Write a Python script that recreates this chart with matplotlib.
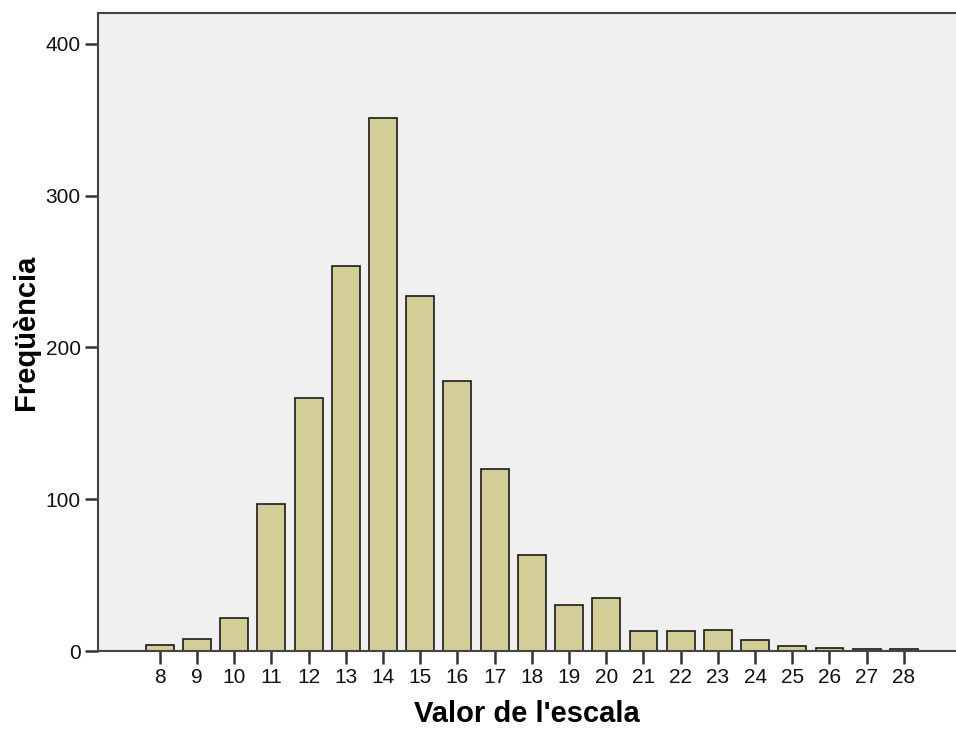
import matplotlib
matplotlib.use("Agg")
import matplotlib.pyplot as plt

# --- Dades ---
valors = list(range(8, 29))
frequencies = [4, 8, 22, 97, 167, 254, 351, 234, 178, 120, 63,
               30, 35, 13, 13, 14, 7, 3, 2, 1, 1]
yticks = [0, 100, 200, 300, 400]

plt.rcParams['font.family'] = ['Liberation Sans', 'DejaVu Sans']

fig = plt.figure(figsize=(9.56, 7.3), dpi=100)
ax = fig.add_axes([0.1025, 0.1082, 0.8975, 0.8740])
ax.set_facecolor('#F0F0F0')

ax.bar(valors, frequencies, width=0.75, color='#D3CE97',
       edgecolor='#1a1a1a', linewidth=1.2, zorder=2)

ax.set_xlim(6.34, 29.4)
ax.set_ylim(0, 420.4)
ax.set_xticks(valors)
ax.set_yticks(yticks)
ax.tick_params(axis='both', labelsize=15, length=9.5, width=1.8,
               color='#333333', labelcolor='#111111')
ax.tick_params(axis='x', pad=3)
ax.tick_params(axis='y', pad=3)

for side in ['left', 'top', 'bottom']:
    ax.spines[side].set_color('#444444')
    ax.spines[side].set_linewidth(1.5)
ax.spines['right'].set_visible(False)

ax.set_xlabel("Valor de l'escala", fontsize=21, fontweight='bold', labelpad=9)
ax.set_ylabel("Freqüència", fontsize=21, fontweight='bold', labelpad=4)

fig.savefig('out.png', dpi=100, facecolor='white')
plt.close(fig)
